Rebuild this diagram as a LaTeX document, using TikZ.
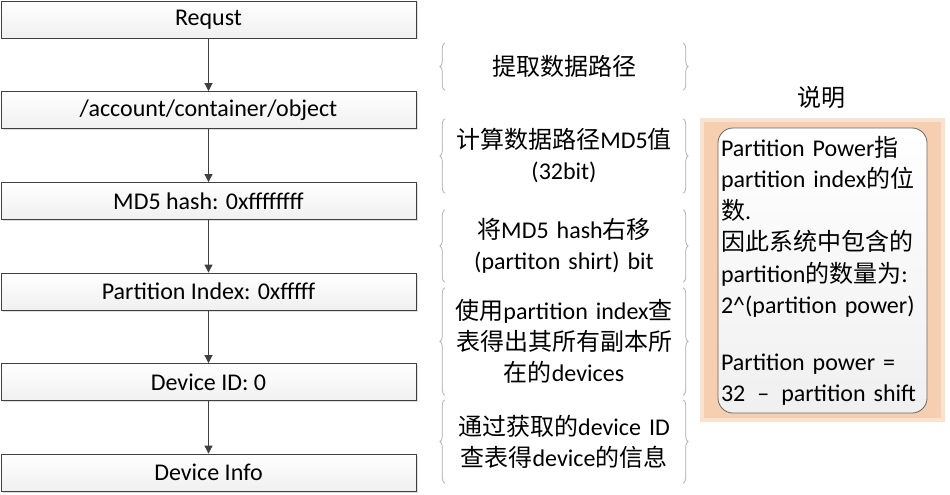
\documentclass[tikz,border=0pt]{standalone}
\usepackage{fontspec}
\setmainfont{Carlito}
\newfontfamily\zhfont{Noto Sans CJK SC}
\newcommand{\zh}[1]{{\zhfont #1}}
\usepackage{xcolor}
\usetikzlibrary{arrows.meta,positioning,decorations.pathreplacing,shadows}
\definecolor{lineGray}{HTML}{404040}
\definecolor{braceGray}{HTML}{A8A8A8}
\definecolor{noteOrange}{HTML}{F6CFB1}
\definecolor{noteEdge}{HTML}{FAE2D0}

\begin{document}
\begin{tikzpicture}[x=1pt, y=-1pt, font=\fontsize{24}{31}\selectfont,
  stepbox/.style={draw=lineGray, line width=0.8pt, top color=white, bottom color=gray!12,
    minimum width=415pt, minimum height=37pt, inner sep=0pt,
    drop shadow={shadow xshift=1.5pt, shadow yshift=-1.5pt, fill=gray!25, opacity=1}},
  flow/.style={-{Triangle[width=8pt,length=8pt]}, lineGray, line width=0.8pt},
  explain/.style={minimum width=238pt, text width=236pt, align=center, inner sep=0pt},
  bracel/.style={decorate, decoration={brace, amplitude=5pt}, braceGray, line width=0.7pt}]
  \useasboundingbox (0,0) rectangle (950,495);
  % processing steps
  \node[stepbox] (req)  at (208.5,19.5)  {Requst};
  \node[stepbox] (path) at (208.5,110)   {/account/container/object};
  \node[stepbox] (md5)  at (208.5,201)   {MD5 hash: 0xffffffff};
  \node[stepbox] (part) at (208.5,291.5) {Partition Index: 0xfffff};
  \node[stepbox] (dev)  at (208.5,382)   {Device ID: 0};
  \node[stepbox] (info) at (208.5,472.5) {Device Info};
  \draw[flow] (req) -- (path);
  \draw[flow] (path) -- (md5);
  \draw[flow] (md5) -- (part);
  \draw[flow] (part) -- (dev);
  \draw[flow] (dev) -- (info);
  % explanations between braces
  \node[explain, minimum height=47pt]  (e1) at (564,66.5)  {\zh{提取数据路径}};
  \node[explain, minimum height=74pt]  (e2) at (564,156)   {\zh{计算数据路径}MD5\zh{值}\\(32bit)};
  \node[explain, minimum height=72pt]  (e3) at (564,246)   {\zh{将}MD5 hash\zh{右移}\\(partiton shirt) bit};
  \node[explain, minimum height=107pt] (e4) at (564,341.5) {\zh{使用}partition index\zh{查}\\\zh{表得出其所有副本所}\\\zh{在的}devices};
  \node[explain, minimum height=83pt]  (e5) at (564,441.5) {\zh{通过获取的}device ID\\\zh{查表得}device\zh{的信息}};
  \foreach \e in {e1,e2,e3,e4,e5}{
    \draw[bracel] (\e.south west) -- (\e.north west);
    \draw[bracel] (\e.north east) -- (\e.south east);
  }
  % note panel
  \node (title) at (821,97) {\zh{说明}};
  \node[fill=noteEdge, minimum width=245pt, minimum height=304pt, inner sep=0pt] (glow) at (822.5,270) {};
  \node[fill=noteOrange, minimum width=237pt, minimum height=296pt, inner sep=0pt] at (glow.center) {};
  \node[draw=lineGray!80, line width=0.8pt, rounded corners=15pt, top color=white, bottom color=gray!12,
    minimum width=209pt, minimum height=285pt, text width=203pt, align=left, inner xsep=3pt] (note) at (822.5,270.5)
    {\fontsize{24}{31.5}\selectfont Partition Power\zh{指}\\partition index\zh{的位}\\\zh{数}.\\\zh{因此系统中包含的}\\partition\zh{的数量为}:\\2\textasciicircum(partition power)\\[25pt]Partition power =\\32 \,– \,partition shift};
\end{tikzpicture}
\end{document}
